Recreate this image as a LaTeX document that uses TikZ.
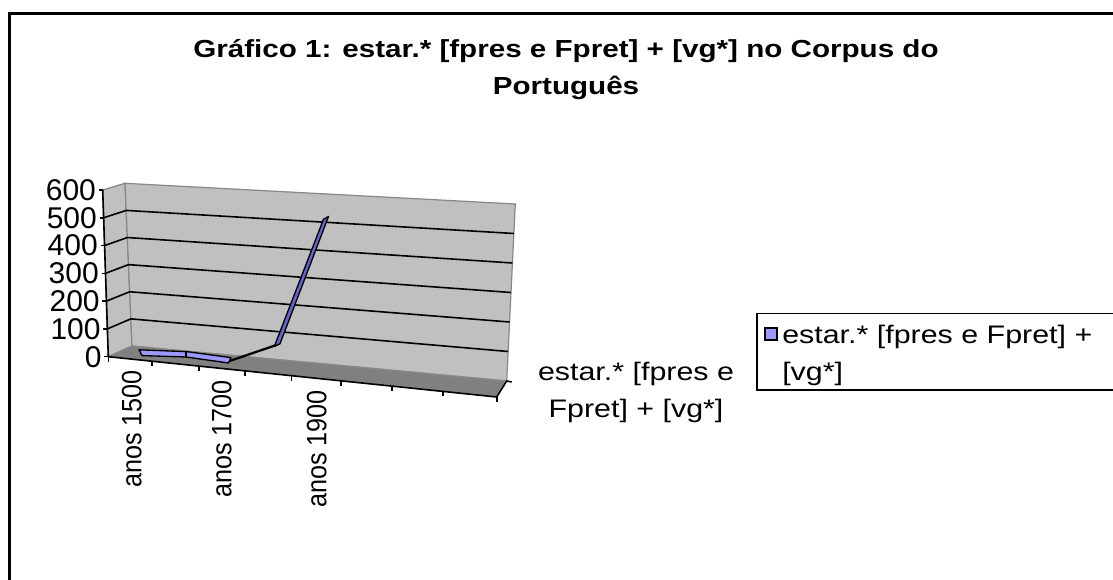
\documentclass[tikz,border=0pt]{standalone}
\usepackage{fontspec}
\setmainfont{Liberation Sans}
\newfontfamily\xlfont[FakeStretch=1.2]{Liberation Sans}
\newfontfamily\catfont[FakeStretch=0.9]{Liberation Sans}
\usetikzlibrary{calc}
\definecolor{wallgray}{RGB}{192,192,192}
\definecolor{floorgray}{RGB}{128,128,128}
\definecolor{edgegray}{RGB}{135,135,135}
\definecolor{ribbon}{RGB}{153,153,255}
\definecolor{ribbonside}{RGB}{102,102,204}
\tikzset{wall/.style={fill=wallgray,draw=edgegray,line width=0.9pt},
  gridline/.style={line width=1.2pt},
  axisline/.style={line width=1.2pt},
  band/.style={draw=black,fill=ribbon,line width=1pt,line join=round},
  lbl/.style={font=\xlfont\fontsize{19}{27.75}\selectfont,inner sep=0pt},
  ylbl/.style={font=\fontsize{22.5}{27}\selectfont,inner sep=0pt},
  catlbl/.style={font=\catfont\fontsize{21}{25}\selectfont,rotate=90,anchor=east,inner sep=0pt}}

\begin{document}
\begin{tikzpicture}[x=0.75pt,y=-0.75pt]
                  \useasboundingbox (0,0) rectangle (1113,580);
                  \draw[line width=1.9pt] (9.5,13.5) rectangle (1130,600);
                  % title
                  \node[lbl,font=\xlfont\bfseries\fontsize{18.5}{27.75}\selectfont,anchor=base] (title1) at (566,57.5) {Gráfico 1: estar.* [fpres e Fpret] + [vg*] no Corpus do};
                  \node[lbl,font=\xlfont\bfseries\fontsize{18.5}{27.75}\selectfont,anchor=base] (title2) at (566,94.5) {Português};
                  % corners of the box
                  \coordinate (A0) at (108.3,356.7);
                  \coordinate (A6) at (102.7,190);
                  \coordinate (TL) at (125,183.3);
                  \coordinate (BL) at (132,346);
                  \coordinate (TR) at (515.3,204);
                  \coordinate (BR) at (506.7,381);
                  \coordinate (FR) at (496.7,397);
                  \fill[floorgray] (A0) -- (BL) -- (BR) -- (FR) -- cycle;
                  \draw[wall] (A0) -- (A6) -- (TL) -- (BL) -- cycle;
                  \draw[wall] (BL) -- (TL) -- (TR) -- (BR) -- cycle;
                  \foreach \v in {1,...,5}
                    \draw[gridline] ($(A0)!\v/6!(A6)$) -- ($(BL)!\v/6!(TL)$) -- ($(BR)!\v/6!(TR)$);
                  \draw[edgegray,line width=0.9pt] (A0) -- (BL) -- (BR);
                  % value axis
                  \draw[axisline] (A0) -- (A6);
                  \foreach \v in {0,...,6}
                    \draw[axisline] ($(A0)!\v/6!(A6)$) -- ++(-4,0) node[ylbl,anchor=east,xshift=-1.5pt] (y\v) {\number\numexpr\v*100\relax};
                  % category axis
                  \draw[axisline] (A0) -- (FR) -- (BR) -- ++(5,1);
                  \foreach \t in {0,.112,.233,.352,.472,.599,.730,.862,1}
                    \draw[axisline] ($(A0)!\t!(FR)$) -- ++(0,5);
                  \node[catlbl] (c1500) at (131.7,370) {anos 1500};
                  \node[catlbl] (c1700) at (221.7,380) {anos 1700};
                  \node[catlbl] (c1900) at (316.7,390) {anos 1900};
                  % the series
                  \filldraw[band] (139,349.8) -- (185.5,351.6) -- (186,357) -- (142,355.6) -- cycle;
                  \filldraw[band] (186.5,351.6) -- (231,357.6) -- (228.5,363) -- (186,357) -- cycle;
                  \draw[line width=1.7pt] (229.5,361) -- (275,345.5);
                  \filldraw[band,fill=ribbonside] (274.3,346.5) -- (280,343.8) -- (328.5,216.5) -- (323.5,219.3) -- cycle;
                  \node[lbl,anchor=base] (ztitle1) at (636,381) {estar.* [fpres e};
                  \node[lbl,anchor=base] (ztitle2) at (636,418) {Fpret] + [vg*]};
                  % legend
                  \draw[line width=1pt] (757,313.3) rectangle (1130,390);
                  \filldraw[fill=ribbon,draw=black,line width=0.9pt] (765,328) rectangle (777,340);
                  \node[lbl,anchor=base west] (leg1) at (782,344) {estar.* [fpres e Fpret] +};
                  \node[lbl,anchor=base west] (leg2) at (782,381) {[vg*]};
              \end{tikzpicture}
\end{document}
